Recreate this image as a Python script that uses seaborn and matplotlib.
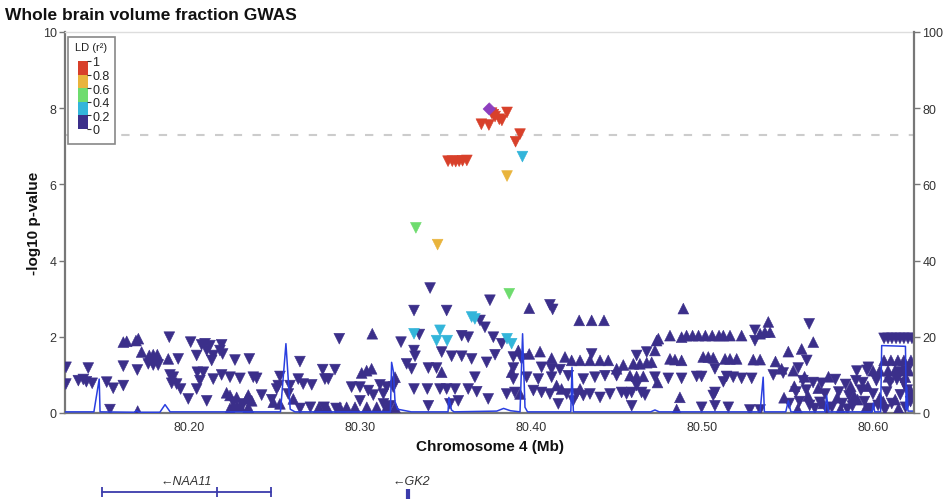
import numpy as np
import pandas as pd
import seaborn as sns
import matplotlib
matplotlib.use("Agg")
import matplotlib.pyplot as plt
from matplotlib.patches import Rectangle

sns.set_theme(style="white")
plt.rcParams["font.family"] = ["Liberation Sans", "DejaVu Sans"]

# ---------------- data ----------------
title = "Whole brain volume fraction GWAS"
xlim = (80.1275, 80.6240)
x_ticks = [80.20, 80.30, 80.40, 80.50, 80.60]
x_tick_labels = ["80.20", "80.30", "80.40", "80.50", "80.60"]
y_ticks = [0, 2, 4, 6, 8, 10]
recomb_ticks = [0, 20, 40, 60, 80, 100]
gw_sig = 7.3

ld_bins = ["0-0.2", "0.2-0.4", "0.4-0.6", "0.6-0.8", "0.8-1", "lead"]
ld_colors = ["#3B2F8A", "#33B5DA", "#6EDC6E", "#E9B43C", "#D8402A", "#8E3FBF"]
legend_labels = ["1", "0.8", "0.6", "0.4", "0.2", "0"]

navy_dn_pos = [80.1281, 80.1411, 80.1280, 80.1353, 80.1382, 80.1400, 80.1434, 80.1519, 80.1557, 80.1616,
               80.1538, 80.1616, 80.1698, 80.1762, 80.1791, 80.1820, 80.1885, 80.1889, 80.1908, 80.1899,
               80.1928, 80.1937, 80.1951, 80.1996, 80.2010, 80.2045, 80.2049, 80.2074, 80.2064, 80.2045,
               80.2094, 80.2123, 80.2191, 80.2104, 80.2142, 80.2133, 80.2181, 80.2197, 80.2269, 80.2353,
               80.2084, 80.2142, 80.2191, 80.2240, 80.2298, 80.2376, 80.2396, 80.2104, 80.2425, 80.2259,
               80.2318, 80.2484, 80.2532, 80.2522, 80.2513, 80.2591, 80.2581, 80.2649, 80.2639, 80.2668,
               80.2718, 80.2782, 80.2854, 80.2795, 80.2815, 80.2879, 80.2650, 80.2710, 80.2790, 80.2860,
               80.3410, 80.3316, 80.3507, 80.3240, 80.3347, 80.3595, 80.3633, 80.3702, 80.3316, 80.3322,
               80.3478, 80.3536, 80.3595, 80.3653, 80.3273, 80.3302, 80.3400, 80.3448, 80.3672, 80.2951,
               80.3000, 80.3049, 80.3078, 80.3117, 80.3156, 80.3195, 80.3137, 80.3316, 80.3394, 80.3468,
               80.3507, 80.3556, 80.3633, 80.3683, 80.3575, 80.3526, 80.3400, 80.3000, 80.3137, 80.3175,
               80.3760, 80.4111, 80.4127, 80.3731, 80.3780, 80.3829, 80.3741, 80.3790, 80.3897, 80.4355,
               80.3945, 80.3897, 80.3975, 80.4062, 80.4121, 80.4170, 80.4043, 80.4121, 80.4218, 80.4306,
               80.4374, 80.4433, 80.4501, 80.3897, 80.3858, 80.3906, 80.3750, 80.4014, 80.4062, 80.4111,
               80.4160, 80.4267, 80.4306, 80.4345, 80.4404, 80.4462, 80.4209, 80.4247,
               80.5310, 80.5310, 80.4677, 80.4618, 80.5076, 80.4725, 80.4803, 80.4881, 80.4969, 80.4998,
               80.5144, 80.5183, 80.5232, 80.5291, 80.5125, 80.4618, 80.4530, 80.4559, 80.4589, 80.4647,
               80.4667, 80.5076, 80.5066, 80.4589, 80.4998, 80.5076, 80.5154, 80.5280, 80.5340,
               80.5627, 80.5613, 80.5417, 80.5563, 80.5973,
               80.6065, 80.6088, 80.6111, 80.6135, 80.6158, 80.6181, 80.6205, 80.6228,
               80.5475, 80.5590, 80.5650, 80.5700, 80.5780, 80.5840, 80.5900, 80.5940, 80.6020, 80.6100,
               80.6140, 80.6180, 80.5550, 80.5610, 80.5720, 80.5800, 80.5860, 80.5930, 80.6000, 80.6080,
               80.6160, 80.6200, 80.5510, 80.5570, 80.5630, 80.5690, 80.5760, 80.5820, 80.5880, 80.5950,
               80.6030, 80.6110, 80.6190, 80.6220, 80.5660, 80.5730, 80.5850, 80.5990, 80.6070,
               80.5906, 80.5965, 80.6158, 80.6199]
navy_dn_logp = [1.20, 1.18, 0.76, 0.85, 0.88, 0.82, 0.78, 0.81, 0.65, 0.72,
                0.09, 1.23, 1.13, 1.29, 1.26, 1.26, 1.99, 1.00, 0.94, 0.78,
                0.76, 1.42, 0.63, 0.37, 1.86, 1.51, 1.07, 1.79, 0.85, 0.63,
                1.82, 1.77, 1.79, 1.64, 1.51, 1.38, 1.64, 1.55, 1.39, 1.42,
                1.07, 0.89, 1.00, 0.94, 0.91, 0.94, 0.91, 0.32, 0.47, 0.28,
                0.24, 0.35, 0.96, 0.72, 0.63, 0.72, 0.50, 1.35, 0.89, 0.76,
                0.74, 1.14, 1.14, 0.89, 0.89, 1.95, 0.12, 0.15, 0.15, 0.12,
                3.28, 2.69, 2.69, 1.86, 2.06, 2.03, 1.99, 2.43, 1.64, 1.49,
                1.60, 1.49, 1.49, 1.42, 1.29, 1.16, 1.18, 1.18, 0.94, 0.68,
                0.68, 0.59, 0.47, 0.74, 0.68, 0.68, 0.50, 0.63, 0.63, 0.63,
                0.63, 0.63, 0.63, 0.56, 0.32, 0.24, 0.19, 0.32, 0.24, 0.19,
                2.96, 2.84, 2.72, 2.25, 1.99, 1.82, 1.33, 1.53, 1.47, 1.55,
                1.42, 1.18, 0.94, 1.20, 1.16, 1.14, 0.89, 0.94, 0.98, 0.89,
                0.94, 0.98, 0.98, 0.89, 0.50, 0.54, 0.37, 0.59, 0.54, 0.50,
                0.24, 0.50, 0.46, 0.50, 0.41, 0.50, 0.50, 0.32,
                2.17, 1.90, 1.60, 1.51, 1.16, 0.94, 0.91, 0.91, 0.96, 0.96,
                0.96, 0.94, 0.91, 0.91, 0.82, 0.72, 0.54, 0.50, 0.54, 0.54,
                0.47, 0.54, 0.46, 0.19, 0.15, 0.19, 0.15, 0.08, 0.08,
                2.34, 1.38, 1.00, 1.18, 1.20,
                1.96, 1.96, 1.96, 1.96, 1.96, 1.96, 1.96, 1.96,
                1.05, 0.85, 0.80, 0.78, 0.88, 0.75, 0.85, 0.80, 0.85, 0.80,
                0.88, 0.78, 0.55, 0.60, 0.50, 0.55, 0.45, 0.60, 0.50, 0.55,
                0.48, 0.60, 0.25, 0.30, 0.20, 0.28, 0.15, 0.25, 0.18, 0.30,
                0.20, 0.25, 0.15, 0.30, 0.12, 0.08, 0.10, 0.12, 0.08,
                1.10, 1.12, 1.08, 1.10]

navy_up_pos = [80.1616, 80.1636, 80.1690, 80.1704, 80.1723, 80.1768, 80.1791, 80.1815, 80.1879, 80.1700,
               80.2220, 80.2279, 80.2347, 80.2367, 80.2493, 80.2532, 80.2610, 80.2240, 80.2280,
               80.2240, 80.2337, 80.2259, 80.2298, 80.2347,
               80.3072, 80.3478, 80.3010, 80.3039, 80.3068, 80.3205, 80.2883, 80.2922, 80.2971, 80.3040,
               80.3098, 80.3156, 80.3205, 80.2810, 80.2760,
               80.3990, 80.4282, 80.4355, 80.4427, 80.3926, 80.3990, 80.4053, 80.4121, 80.4199, 80.4238,
               80.4287, 80.4345, 80.4404, 80.4452, 80.3887, 80.4501, 80.3936, 80.4150, 80.4179, 80.4287,
               80.4891, 80.4813, 80.4881, 80.4910, 80.4945, 80.4980, 80.5020, 80.5060, 80.5100, 80.5125,
               80.5164, 80.5232, 80.5340, 80.4735, 80.4745, 80.4725, 80.4599, 80.4540, 80.4637, 80.4677,
               80.4706, 80.4813, 80.4842, 80.4881, 80.5007, 80.5037, 80.5066, 80.5135, 80.5164, 80.5203,
               80.5300, 80.5340, 80.4579, 80.4618, 80.4657, 80.4871, 80.4852, 80.4740,
               80.5388, 80.5368, 80.5398, 80.5651, 80.5583, 80.5505, 80.5430, 80.5466, 80.5534,
               80.6065, 80.6105, 80.6146, 80.6181, 80.6222,
               80.6000, 80.6040, 80.6088, 80.6128, 80.6170, 80.6210,
               80.5480, 80.5540, 80.5600, 80.5680, 80.5740, 80.5790, 80.5870, 80.5910, 80.5970, 80.6040,
               80.6090, 80.6130, 80.6190, 80.6225, 80.5560, 80.5620, 80.5710, 80.5810, 80.5890, 80.5960,
               80.6060, 80.6150]
navy_up_logp = [1.86, 1.88, 1.90, 1.95, 1.60, 1.51, 1.53, 1.53, 1.42, 0.05,
                0.53, 0.41, 0.47, 0.32, 0.28, 0.24, 0.37, 0.12, 0.18,
                0.46, 0.37, 0.19, 0.19, 0.15,
                2.08, 1.07, 1.05, 1.11, 1.16, 0.94, 0.15, 0.15, 0.15, 0.15,
                0.15, 0.15, 0.15, 0.12, 0.15,
                2.75, 2.43, 2.43, 2.43, 1.64, 1.55, 1.61, 1.44, 1.47, 1.38,
                1.38, 1.38, 1.38, 1.38, 1.07, 1.16, 0.50, 0.72, 0.63, 0.63,
                2.74, 2.03, 1.99, 2.03, 2.03, 2.03, 2.03, 2.03, 2.03, 2.03,
                2.03, 2.03, 2.08, 1.90, 1.95, 1.64, 1.29, 1.26, 1.29, 1.32,
                1.33, 1.42, 1.40, 1.38, 1.47, 1.47, 1.45, 1.42, 1.42, 1.42,
                1.40, 1.40, 0.98, 0.96, 0.96, 0.41, 0.09, 0.80,
                2.39, 2.12, 2.12, 1.86, 1.68, 1.61, 1.35, 1.16, 1.11,
                1.38, 1.38, 1.38, 1.38, 1.38,
                1.11, 1.11, 1.11, 1.11, 1.11, 1.11,
                0.40, 0.70, 0.95, 0.65, 0.95, 0.40, 0.70, 0.35, 0.70, 0.40,
                0.95, 0.35, 0.94, 0.55, 0.10, 0.45, 0.25, 0.10, 0.45, 0.15,
                0.30, 0.12]

cyan_pos = [80.3950, 80.3653, 80.3672, 80.3316, 80.3468, 80.3448, 80.3510, 80.3860, 80.3887]
cyan_logp = [6.73, 2.52, 2.47, 2.08, 2.17, 1.90, 1.90, 1.95, 1.82]
green_pos = [80.3327, 80.3873]
green_logp = [4.86, 3.13]
orange_pos = [80.3860, 80.3454]
orange_logp = [6.22, 4.42]
red_pos = [80.3770, 80.3780, 80.3790, 80.3815, 80.3830, 80.3860, 80.3710, 80.3754, 80.3936, 80.3910,
           80.3515, 80.3540, 80.3560, 80.3580, 80.3600, 80.3625]
red_logp = [7.87, 7.83, 7.78, 7.71, 7.68, 7.89, 7.58, 7.56, 7.32, 7.12,
            6.61, 6.61, 6.60, 6.61, 6.62, 6.63]
lead_pos = [80.3756]
lead_logp = [7.98]

recomb_pos = [80.1275, 80.1444, 80.1475, 80.1480, 80.1680, 80.1694, 80.1708, 80.1830, 80.1860, 80.1890,
              80.2535, 80.2567, 80.2592, 80.2620, 80.3178, 80.3185, 80.3195, 80.3205, 80.3220, 80.3300,
              80.3515, 80.3520, 80.3535, 80.3550, 80.3800, 80.3840, 80.3880, 80.3936, 80.3951, 80.3965,
              80.3980, 80.4233, 80.4240, 80.4248, 80.4700, 80.4725, 80.4750, 80.5340, 80.5358, 80.5365,
              80.5490, 80.5505, 80.5520, 80.5720, 80.5729, 80.5740, 80.5995, 80.6002, 80.6010, 80.6045,
              80.6051, 80.6190, 80.6195, 80.6198, 80.6205, 80.6240]
recomb_rate = [0.3, 0.3, 8.9, 0.3, 0.2, 0.6, 0.2, 0.2, 2.2, 0.3,
               0.3, 18.2, 1.0, 0.3, 0.3, 13.3, 11.0, 3.0, 1.0, 0.3,
               0.3, 4.1, 0.8, 0.3, 0.5, 1.2, 0.6, 0.3, 20.8, 1.5,
               0.3, 0.3, 12.0, 0.3, 0.3, 0.8, 0.3, 0.3, 9.4, 0.3,
               0.3, 3.2, 0.3, 0.3, 4.6, 0.3, 0.3, 2.6, 0.3, 0.3,
               17.7, 17.5, 1.0, 6.8, 0.5, 0.5]

gene_names = ["NAA11", "GK2"]
gene_start = [80.1489, 80.3280]
gene_end = [80.2478, 80.3284]
gene_label_pos = [80.1985, 80.3298]
naa11_exons = [80.1489, 80.2166, 80.2478]

# ---------------- dataframe ----------------
frames = []
for pos, lp, ld, d in [(navy_dn_pos, navy_dn_logp, "0-0.2", "down"),
                       (navy_up_pos, navy_up_logp, "0-0.2", "up"),
                       (cyan_pos, cyan_logp, "0.2-0.4", "down"),
                       (green_pos, green_logp, "0.4-0.6", "down"),
                       (orange_pos, orange_logp, "0.6-0.8", "down"),
                       (red_pos, red_logp, "0.8-1", "down"),
                       (lead_pos, lead_logp, "lead", "lead")]:
    frames.append(pd.DataFrame({"pos": pos, "logp": lp, "ld": ld, "dir": d}))
df = pd.concat(frames, ignore_index=True)

# ---------------- figure ----------------
W, H = 947, 502
fig = plt.figure(figsize=(W / 100, H / 100), dpi=100)
L, R, T, B = 65, 914, 33, 414
ax = fig.add_axes([L / W, 1 - B / H, (R - L) / W, (B - T) / H])

pal = dict(zip(ld_bins, ld_colors))
sns.scatterplot(data=df, x="pos", y="logp", hue="ld", style="dir", size="dir",
                sizes={"down": 60, "up": 60, "lead": 40},
                markers={"down": "v", "up": "^", "lead": "D"},
                palette=pal, hue_order=ld_bins, edgecolor="face",
                linewidth=0.4, legend=False, ax=ax, zorder=3)

ax.axhline(gw_sig, color="#cccccc", lw=1.5, ls=(0, (4, 5)), zorder=1)
ax.set_xlim(*xlim)
ax.set_ylim(0, 10)
ax.set_xticks(x_ticks)
ax.set_xticklabels(x_tick_labels)
ax.set_yticks(y_ticks)
ax.set_xlabel("Chromosome 4 (Mb)", fontsize=11, fontweight="bold", color="#111111", labelpad=4)
ax.set_ylabel("-log10 p-value", fontsize=11, fontweight="bold", color="#111111", labelpad=1)
ax.tick_params(axis="both", direction="out", length=4, width=1, color="#777777",
               labelsize=9, labelcolor="#333333", pad=2)
for side in ["left", "bottom"]:
    ax.spines[side].set_color("#777777")
    ax.spines[side].set_linewidth(1.6)
ax.spines["top"].set_color("#dddddd")
ax.spines["top"].set_linewidth(1.0)
ax.spines["right"].set_visible(False)

ax_r = ax.twinx()
sns.lineplot(x=recomb_pos, y=recomb_rate, ax=ax_r, color="#2A3FE0", linewidth=1.1,
             estimator=None, sort=False)
ax_r.set_ylim(0, 100)
ax_r.set_yticks(recomb_ticks)
ax_r.tick_params(axis="y", direction="out", length=4, width=1, color="#777777",
                 labelsize=9, labelcolor="#333333", pad=2)
ax_r.spines["right"].set_color("#777777")
ax_r.spines["right"].set_linewidth(1.6)
for side in ["left", "top", "bottom"]:
    ax_r.spines[side].set_visible(False)
ax_r.set_ylabel("")

fig.text(5 / W, 1 - 15 / H, title, fontsize=12.5, fontweight="bold",
         ha="left", va="center", color="#111111")

# ---------------- LD legend ----------------
fig.patches.append(Rectangle((68 / W, 1 - 145 / H), 47 / W, 107 / H,
                             transform=fig.transFigure, facecolor="white",
                             edgecolor="#888888", lw=1.2, zorder=5))
fig.text(91 / W, 1 - 48 / H, "LD (r²)", fontsize=8, ha="center", va="center",
         color="#222222", zorder=6)
cax = fig.add_axes([78 / W, 1 - 130 / H, 9 / W, 68 / H], zorder=7)
cax.imshow(np.arange(5)[::-1].reshape(-1, 1), cmap=matplotlib.colors.ListedColormap(ld_colors[:5]),
           aspect="auto", extent=(0, 1, 0, 1), vmin=-0.5, vmax=4.5)
cax.set_xticks([])
cax.set_yticks(np.linspace(1, 0, 6))
cax.yaxis.tick_right()
cax.set_yticklabels(legend_labels)
cax.tick_params(axis="y", length=3, width=0.8, color="#333333", labelsize=9,
                labelcolor="#222222", pad=1)
for s in cax.spines.values():
    s.set_visible(False)

# ---------------- gene track ----------------
ax_g = fig.add_axes([L / W, 0, (R - L) / W, 42 / H])
ax_g.set_xlim(*xlim)
ax_g.set_ylim(0, 42)
ax_g.axis("off")
gcol = "#3B3BAB"
ax_g.plot([gene_start[0], gene_end[0]], [9, 9], color=gcol, lw=1.3)
ax_g.vlines(naa11_exons, 4, 14, color=gcol, lw=1.3)
ax_g.vlines([gene_start[1]], 2, 12, color=gcol, lw=3)
for name, xp in zip(gene_names, gene_label_pos):
    ax_g.text(xp, 20, "←" + name, fontsize=9, style="italic", ha="center",
              va="center", color="#333333")

fig.savefig("out.png", dpi=100)
